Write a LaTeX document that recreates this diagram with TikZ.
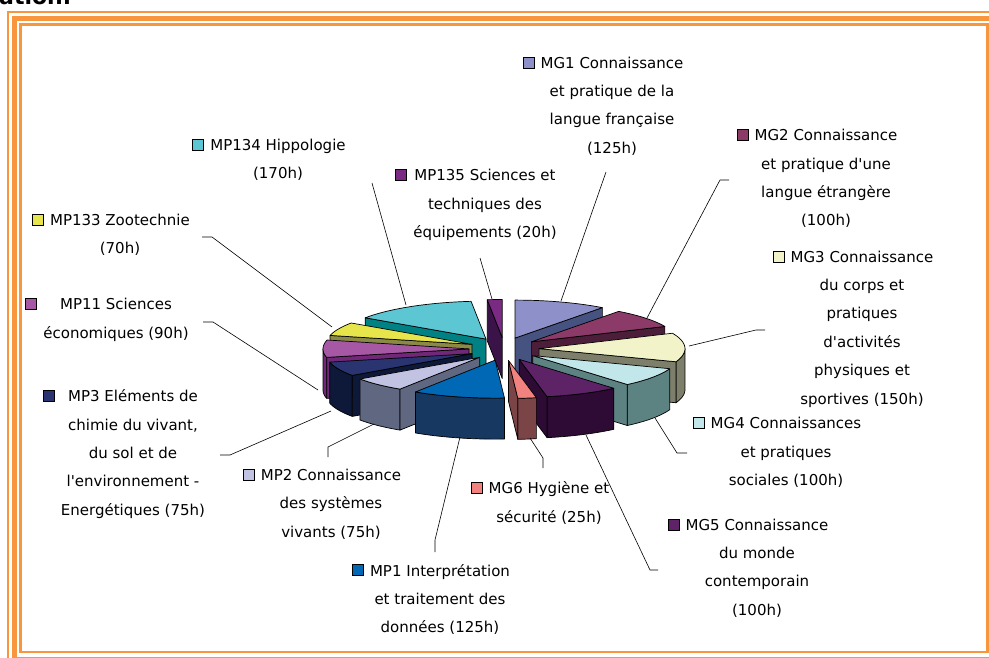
\documentclass[tikz,border=0pt]{standalone}
\usepackage{fontspec}
\setmainfont{DejaVu Sans}
\definecolor{frameor}{HTML}{F7963C}
\definecolor{tMGa}{HTML}{8E90C9} \definecolor{sMGa}{HTML}{46527F}
\definecolor{tMGb}{HTML}{8C3A68} \definecolor{sMGb}{HTML}{4C1E3A}
\definecolor{tMGc}{HTML}{F3F3C9} \definecolor{sMGc}{HTML}{7E7F6A}
\definecolor{tMGd}{HTML}{C1E7EB} \definecolor{sMGd}{HTML}{5D8282}
\definecolor{tMGe}{HTML}{5E2367} \definecolor{sMGe}{HTML}{2D0B35}
\definecolor{tMGf}{HTML}{F2827F} \definecolor{sMGf}{HTML}{7B4447}
\definecolor{tMPa}{HTML}{0068B5} \definecolor{sMPa}{HTML}{163861}
\definecolor{tMPb}{HTML}{C2C2E3} \definecolor{sMPb}{HTML}{5F6781}
\definecolor{tMPc}{HTML}{293470} \definecolor{sMPc}{HTML}{0E1838}
\definecolor{tMPd}{HTML}{A658A4} \definecolor{sMPd}{HTML}{722878}
\definecolor{tMPe}{HTML}{E6E64C} \definecolor{sMPe}{HTML}{8A8A46}
\definecolor{tMPf}{HTML}{5CC6D2} \definecolor{sMPf}{HTML}{008285}
\definecolor{tMPg}{HTML}{7A2A82} \definecolor{sMPg}{HTML}{3A1448}
\tikzset{
  pieedge/.style={draw=black, line width=0.7pt, line join=round},
  lbl/.style={align=center, inner sep=0pt, font=\fontsize{15}{28.4}\selectfont},
  keysq/.style={draw=black, line width=0.7pt, minimum width=11pt, minimum height=11pt, inner sep=0pt, anchor=east},
  leader/.style={draw=black, line width=0.6pt},
  frameline/.style={draw=frameor},
}
% slice: start angle, end angle (clockwise from top), top colour, side colour
\newcommand{\pieslice}[4]{%
  \pgfmathsetmacro{\pmid}{(#1+#2)/2}%
  \pgfmathsetmacro{\ptx}{504+35*sin(\pmid)}%
  \pgfmathsetmacro{\pty}{349-11.5*cos(\pmid)}%
  \pgfmathsetmacro{\psa}{max(#1,90)}%
  \pgfmathsetmacro{\psb}{min(#2,270)}%
  \ifdim\psa pt<\psb pt
    \filldraw[pieedge,fill=#4] plot[domain=\psa:\psb,samples=16] ({\ptx+146*sin(\x)},{\pty-38*cos(\x)}) -- plot[domain=\psb:\psa,samples=16] ({\ptx+146*sin(\x)},{\pty-38*cos(\x)+41}) -- cycle;
  \fi
  \ifdim #1pt>180pt
    \filldraw[pieedge,fill=#4] (\ptx,\pty) -- ({\ptx+146*sin(#1)},{\pty-38*cos(#1)}) -- ++(0,41) -- (\ptx,{\pty+41}) -- cycle;
  \fi
  \ifdim #2pt<180pt
    \filldraw[pieedge,fill=#4] (\ptx,\pty) -- ({\ptx+146*sin(#2)},{\pty-38*cos(#2)}) -- ++(0,41) -- (\ptx,{\pty+41}) -- cycle;
  \fi
  \filldraw[pieedge,fill=#3] (\ptx,\pty) -- plot[domain=#1:#2,samples=20] ({\ptx+146*sin(\x)},{\pty-38*cos(\x)}) -- cycle;
}
\begin{document}
\begin{tikzpicture}[x=1pt,y=-1pt]
\clip (0,0) rectangle (989,658);
\fill[white] (0,0) rectangle (989,658);
% heading remnant
\node[anchor=base west, inner sep=0pt, font=\bfseries\fontsize{22}{22}\selectfont] (hdr) at (-1,4.5) {ation.};
% frame
\draw[frameline, line width=1.8pt] (7.8,11.8) rectangle (1100,700);
\draw[frameline, line width=5pt] (14.2,18.2) rectangle (993,659);
\draw[frameline, line width=2.5pt] (20.3,24.7) rectangle (987.5,652);
% pie (back to front)
\pieslice{354.122}{360}{tMPg}{sMPg}
\pieslice{0}{36.735}{tMGa}{sMGa}
\pieslice{304.163}{354.122}{tMPf}{sMPf}
\pieslice{36.735}{66.122}{tMGb}{sMGb}
\pieslice{283.592}{304.163}{tMPe}{sMPe}
\pieslice{66.122}{110.204}{tMGc}{sMGc}
\pieslice{257.143}{283.592}{tMPd}{sMPd}
\pieslice{235.102}{257.143}{tMPc}{sMPc}
\pieslice{110.204}{139.592}{tMGd}{sMGd}
\pieslice{213.061}{235.102}{tMPb}{sMPb}
\pieslice{139.592}{168.980}{tMGe}{sMGe}
\pieslice{176.327}{213.061}{tMPa}{sMPa}
\pieslice{168.980}{176.327}{tMGf}{sMGf}
% labels
\node[lbl] (lMGa) at (612,106) {MG1 Connaissance\\et pratique de la\\langue française\\(125h)};
\node[lbl] (lMGb) at (826,178.5) {MG2 Connaissance\\et pratique d\textquotesingle une\\langue étrangère\\(100h)};
\node[lbl] (lMGc) at (862,329) {MG3 Connaissance\\du corps et\\pratiques\\d\textquotesingle activités\\physiques et\\sportives (150h)};
\node[lbl] (lMGd) at (786,452.5) {MG4 Connaissances\\et pratiques\\sociales (100h)};
\node[lbl] (lMGe) at (757,568) {MG5 Connaissance\\du monde\\contemporain\\(100h)};
\node[lbl] (lMGf) at (549,503) {MG6 Hygiène et\\sécurité (25h)};
\node[lbl] (lMPa) at (440,599.5) {MP1 Interprétation\\et traitement des\\données (125h)};
\node[lbl] (lMPb) at (331,504) {MP2 Connaissance\\des systèmes\\vivants (75h)};
\node[lbl] (lMPc) at (133,454) {MP3 Eléments de\\chimie du vivant,\\du sol et de\\l\textquotesingle environnement -\\Energétiques (75h)};
\node[lbl] (lMPd) at (116,320) {MP11 Sciences\\économiques (90h)};
\node[lbl] (lMPe) at (120,235) {MP133 Zootechnie\\(70h)};
\node[lbl] (lMPf) at (278,160) {MP134 Hippologie\\(170h)};
\node[lbl] (lMPg) at (485,205) {MP135 Sciences et\\techniques des\\équipements (20h)};
% legend keys
\foreach \n in {MGa,MGb,MGc,MGd,MGe,MGf,MPa,MPb,MPc,MPd,MPe,MPf,MPg}
  \node[keysq, fill=t\n] (k\n) at ([shift={(-6,6)}]l\n.north west) {};
% leader lines
\coordinate (aMGa) at (561,301); \coordinate (eMGa) at (606,172);
\coordinate (aMGb) at (647,318); \coordinate (bMGb) at (720,180); \coordinate (eMGb) at (729,180);
\coordinate (aMGc) at (689,346); \coordinate (bMGc) at (756,330); \coordinate (eMGc) at (765,330);
\coordinate (aMGd) at (655,418); \coordinate (bMGd) at (677,453); \coordinate (eMGd) at (687,453);
\coordinate (aMGe) at (586,435); \coordinate (bMGe) at (650,570); \coordinate (eMGe) at (658,570);
\coordinate (aMGf) at (530,438); \coordinate (bMGf) at (543,458); \coordinate (eMGf) at (543,468);
\coordinate (aMPa) at (460,437); \coordinate (bMPa) at (435,540); \coordinate (eMPa) at (435,552);
\coordinate (aMPb) at (374,424); \coordinate (bMPb) at (328,447); \coordinate (eMPb) at (328,457);
\coordinate (aMPc) at (331,411); \coordinate (bMPc) at (230,455); \coordinate (eMPc) at (220,455);
\coordinate (aMPd) at (318,390); \coordinate (bMPd) at (213,322); \coordinate (eMPd) at (203,322);
\coordinate (aMPe) at (332,327); \coordinate (bMPe) at (212,237); \coordinate (eMPe) at (202,237);
\coordinate (aMPf) at (406,305); \coordinate (eMPf) at (372,183);
\coordinate (aMPg) at (492,299); \coordinate (eMPg) at (480,258);
\draw[leader] (aMGa) -- (eMGa);
\draw[leader] (aMPf) -- (eMPf);
\draw[leader] (aMPg) -- (eMPg);
\foreach \n in {MGb,MGc,MGd,MGe,MGf,MPa,MPb,MPc,MPd,MPe}
  \draw[leader] (a\n) -- (b\n) -- (e\n);
\end{tikzpicture}
\end{document}
